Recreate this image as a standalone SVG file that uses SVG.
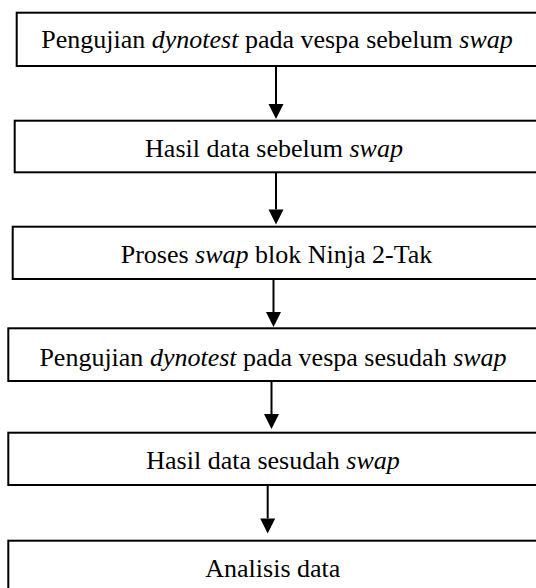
<svg xmlns="http://www.w3.org/2000/svg" width="536" height="588" viewBox="0 0 536 588">
<style>
.box{fill:#fff;stroke:#000;stroke-width:2}
.t{font-size:26px;fill:#000;text-anchor:middle}
.i{font-style:italic}
.c{stroke:#000;stroke-width:2;fill:none}
</style>
<defs>
<marker id="ah" markerUnits="userSpaceOnUse" markerWidth="15" markerHeight="16" refX="0" refY="7.5" orient="auto" overflow="visible">
<path d="M0,0 L15,7.5 L0,15 z" fill="#000"/>
</marker>
</defs>
<rect width="536" height="588" fill="#fff"/>
<g id="connectors">
<line class="c" x1="276" y1="66" x2="276" y2="104" marker-end="url(#ah)"/>
<line class="c" x1="276" y1="172.3" x2="276" y2="209.5" marker-end="url(#ah)"/>
<line class="c" x1="273.5" y1="279" x2="273.5" y2="312" marker-end="url(#ah)"/>
<line class="c" x1="271.5" y1="381" x2="271.5" y2="414" marker-end="url(#ah)"/>
<line class="c" x1="267.7" y1="485" x2="267.7" y2="518.5" marker-end="url(#ah)"/>
</g>
<g id="n1">
<rect class="box" x="16.7" y="12.7" width="530" height="53.3"/>
<text class="t" font-family="'Liberation Serif', serif" x="277" y="48.3">Pengujian <tspan class="i">dynotest</tspan> pada vespa sebelum <tspan class="i">swap</tspan></text>
</g>
<g id="n2">
<rect class="box" x="14.7" y="120.7" width="530" height="51.6"/>
<text class="t" font-family="'Liberation Serif', serif" x="274" y="156.7">Hasil data sebelum <tspan class="i">swap</tspan></text>
</g>
<g id="n3">
<rect class="box" x="12.7" y="226.7" width="530" height="52.3"/>
<text class="t" font-family="'Liberation Serif', serif" x="276.5" y="263.3">Proses <tspan class="i">swap</tspan> blok Ninja 2-Tak</text>
</g>
<g id="n4">
<rect class="box" x="8.3" y="328.3" width="535" height="52.7"/>
<text class="t" font-family="'Liberation Serif', serif" x="273" y="365.7">Pengujian <tspan class="i">dynotest</tspan> pada vespa sesudah <tspan class="i">swap</tspan></text>
</g>
<g id="n5">
<rect class="box" x="8.3" y="432.7" width="535" height="52.3"/>
<text class="t" font-family="'Liberation Serif', serif" x="273" y="469">Hasil data sesudah <tspan class="i">swap</tspan></text>
</g>
<g id="n6">
<rect class="box" x="8.3" y="540.7" width="535" height="60"/>
<text class="t" font-family="'Liberation Serif', serif" x="272.8" y="576.7">Analisis data</text>
</g>
</svg>
